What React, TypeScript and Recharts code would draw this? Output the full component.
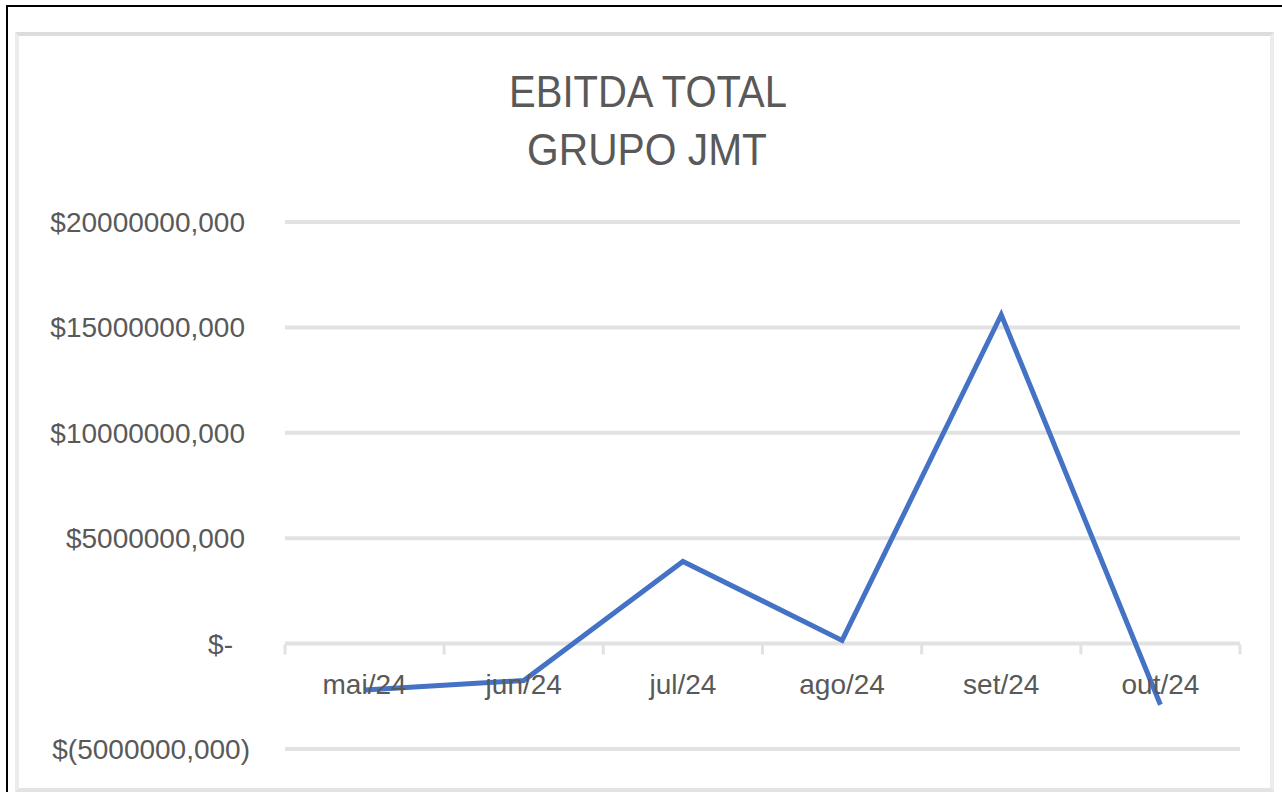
import React from "react";
import { LineChart, Line, XAxis, YAxis, CartesianGrid } from "recharts";

const categories = ["mai/24", "jun/24", "jul/24", "ago/24", "set/24", "out/24"];
const ebitda = [-2200000, -1750000, 3900000, 150000, 15600000, -2900000];
const yTicks = [-5000000, 0, 5000000, 10000000, 15000000, 20000000];
const titleLines = ["EBITDA TOTAL", "GRUPO JMT"];

const data = categories.map((c, i) => ({ mes: c, ebitda: ebitda[i] }));

const W = 1282;
const H = 792;
const M = { top: 222, right: 42, bottom: 42, left: 185 };
const Y_AXIS_W = 100;
const PLOT_TOP = M.top;
const PLOT_H = H - M.top - M.bottom;
const PLOT_W = W - M.left - Y_AXIS_W - M.right;
const Y_MIN = yTicks[0];
const Y_MAX = yTicks[yTicks.length - 1];
const ZERO_Y = PLOT_TOP + (PLOT_H * (Y_MAX - 0)) / (Y_MAX - Y_MIN);
const HALF_BAND = PLOT_W / categories.length / 2;

const TEXT = "#595959";
const GRID = "#e2e2e2";
const FONT = "'Liberation Sans', Arial, sans-serif";

const fmtY = (v: number) => {
  if (v === 0) return "$-";
  if (v < 0) return `$(${Math.abs(v)},000)`;
  return `$${v},000`;
};

const YTick = (props: any) => {
  const { x, y, payload } = props;
  const v = payload.value as number;
  const dx = v === 0 ? -12 : v < 0 ? 5 : 0;
  return (
    <text
      x={x + dx}
      y={y}
      dy={10}
      textAnchor="end"
      fill={TEXT}
      fontSize={28}
      fontFamily={FONT}
    >
      {fmtY(v)}
    </text>
  );
};

const XTick = (props: any) => {
  const { x, payload, index } = props;
  const last = index === categories.length - 1;
  return (
    <g>
      <line x1={x - HALF_BAND} x2={x - HALF_BAND} y1={ZERO_Y} y2={ZERO_Y + 10} stroke={GRID} strokeWidth={3} />
      {last && (
        <line x1={x + HALF_BAND} x2={x + HALF_BAND} y1={ZERO_Y} y2={ZERO_Y + 10} stroke={GRID} strokeWidth={3} />
      )}
      <text
        x={x}
        y={ZERO_Y + 50}
        textAnchor="middle"
        fill={TEXT}
        fontSize={28}
        fontFamily={FONT}
      >
        {payload.value}
      </text>
    </g>
  );
};

export default function App() {
  return (
    <div
      style={{
        position: "fixed",
        left: 0,
        top: 0,
        width: W,
        height: H,
        overflow: "hidden",
        background: "#fff",
      }}
    >
      <div
        style={{
          position: "absolute",
          left: 6,
          top: 5,
          width: W + 20,
          height: H + 20,
          borderLeft: "2px solid #000",
          borderTop: "2px solid #000",
        }}
      />
      <div
        style={{
          position: "absolute",
          left: 15,
          top: 32,
          width: 1274 - 15 - 8,
          height: 788 - 32 - 4,
          border: "4px solid #e3e3e3",
          borderTopColor: "#dcdcdc",
          borderRightColor: "#ececec",
          borderLeftColor: "#ececec",
        }}
      />
      <div style={{ position: "absolute", left: 0, top: 0 }}>
        <LineChart width={W} height={H} data={data} margin={M}>
          <CartesianGrid horizontal vertical={false} stroke={GRID} strokeWidth={4} />
          <XAxis
            dataKey="mes"
            axisLine={false}
            tickLine={false}
            tick={<XTick />}
            interval={0}
            height={1}
            padding={{ left: HALF_BAND, right: HALF_BAND }}
          />
          <YAxis
            type="number"
            domain={[Y_MIN, Y_MAX]}
            ticks={yTicks}
            width={Y_AXIS_W}
            axisLine={false}
            tickLine={false}
            tickSize={0}
            tickMargin={40}
            tick={<YTick />}
          />
          <Line
            type="linear"
            dataKey="ebitda"
            stroke="#4472C4"
            strokeWidth={5}
            dot={false}
            isAnimationActive={false}
          />
          <text x={648} y={107} textAnchor="middle" fill={TEXT} fontSize={44} fontFamily={FONT} textLength={278} lengthAdjust="spacingAndGlyphs">
            {titleLines[0]}
          </text>
          <text x={647} y={165} textAnchor="middle" fill={TEXT} fontSize={44} fontFamily={FONT} textLength={240} lengthAdjust="spacingAndGlyphs">
            {titleLines[1]}
          </text>
        </LineChart>
      </div>
    </div>
  );
}
